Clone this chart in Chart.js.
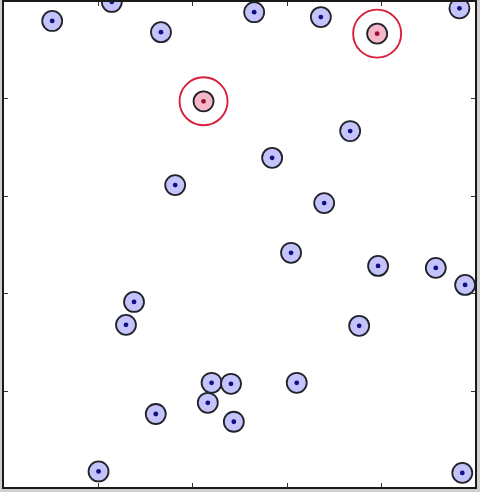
<!DOCTYPE html>
<html>
<head>
<meta charset="utf-8">
<script src="https://cdn.jsdelivr.net/npm/chart.js@4/dist/chart.umd.min.js"></script>
<style>
html,body{margin:0;padding:0;background:#cfcfcf;}
#wrap{width:480px;height:492px;}
</style>
</head>
<body>
<div id="wrap"><canvas id="c" width="480" height="492"></canvas></div>
<script>
// Data (unit square 0..1)
const pointX = [0.104,0.230,0.334,0.531,0.672,0.965,0.734,0.569,0.364,0.679,0.609,0.793,0.915,0.977,0.277,0.260,0.753,0.441,0.482,0.621,0.433,0.323,0.488,0.202,0.971];
const pointY = [0.959,0.998,0.936,0.977,0.967,0.985,0.733,0.678,0.622,0.585,0.483,0.456,0.452,0.417,0.382,0.335,0.333,0.216,0.214,0.216,0.175,0.152,0.136,0.034,0.031];
const selectedX = [0.791,0.424];
const selectedY = [0.933,0.794];
const tickValues = [0.2,0.4,0.6,0.8];

const pts = pointX.map((x,i)=>({x:x,y:pointY[i]}));
const sel = selectedX.map((x,i)=>({x:x,y:selectedY[i]}));

const framePlugin = {
  id:'frame',
  beforeDraw(chart){
    const ctx = chart.ctx, a = chart.chartArea;
    ctx.save();
    ctx.fillStyle = '#cfcfcf';
    ctx.fillRect(0,0,chart.width,chart.height);
    ctx.fillStyle = '#ffffff';
    ctx.fillRect(a.left,a.top,a.right-a.left,a.bottom-a.top);
    ctx.restore();
  },
  afterDraw(chart){
    const ctx = chart.ctx, a = chart.chartArea;
    const xs = chart.scales.x, ys = chart.scales.y;
    ctx.save();
    ctx.strokeStyle = '#333';
    ctx.lineWidth = 1;
    ctx.beginPath();
    tickValues.forEach(v=>{
      const px = Math.round(xs.getPixelForValue(v))+0.5;
      ctx.moveTo(px,a.bottom); ctx.lineTo(px,a.bottom-5);
      ctx.moveTo(px,a.top); ctx.lineTo(px,a.top+5);
      const py = Math.round(ys.getPixelForValue(v))+0.5;
      ctx.moveTo(a.left,py); ctx.lineTo(a.left+5,py);
      ctx.moveTo(a.right,py); ctx.lineTo(a.right-5,py);
    });
    ctx.stroke();
    ctx.strokeStyle = '#1a1a1a';
    ctx.lineWidth = 2;
    ctx.strokeRect(a.left,a.top,a.right-a.left,a.bottom-a.top);
    ctx.restore();
  }
};

new Chart(document.getElementById('c'),{
  type:'scatter',
  data:{datasets:[
    {data:pts,order:3,pointRadius:10,pointBackgroundColor:'#c4c4fa',pointBorderColor:'#22222c',pointBorderWidth:1.8,clip:0},
    {data:pts,order:1,pointRadius:2.4,pointBackgroundColor:'#10108a',pointBorderWidth:0,clip:0},
    {data:sel,order:4,pointRadius:24,pointBackgroundColor:'rgba(0,0,0,0)',pointBorderColor:'#d8203c',pointBorderWidth:1.9,clip:0},
    {data:sel,order:2,pointRadius:10,pointBackgroundColor:'#f4b8c8',pointBorderColor:'#22222c',pointBorderWidth:1.8,clip:0},
    {data:sel,order:0,pointRadius:2.4,pointBackgroundColor:'#9a1030',pointBorderWidth:0,clip:0}
  ]},
  options:{
    responsive:false,
    animation:false,
    events:[],
    layout:{autoPadding:false,padding:{left:3,right:4,top:1,bottom:4}},
    plugins:{legend:{display:false},tooltip:{enabled:false}},
    scales:{
      x:{type:'linear',min:0,max:1,display:false},
      y:{type:'linear',min:0,max:1,display:false}
    }
  },
  plugins:[framePlugin]
});
</script>
</body>
</html>
